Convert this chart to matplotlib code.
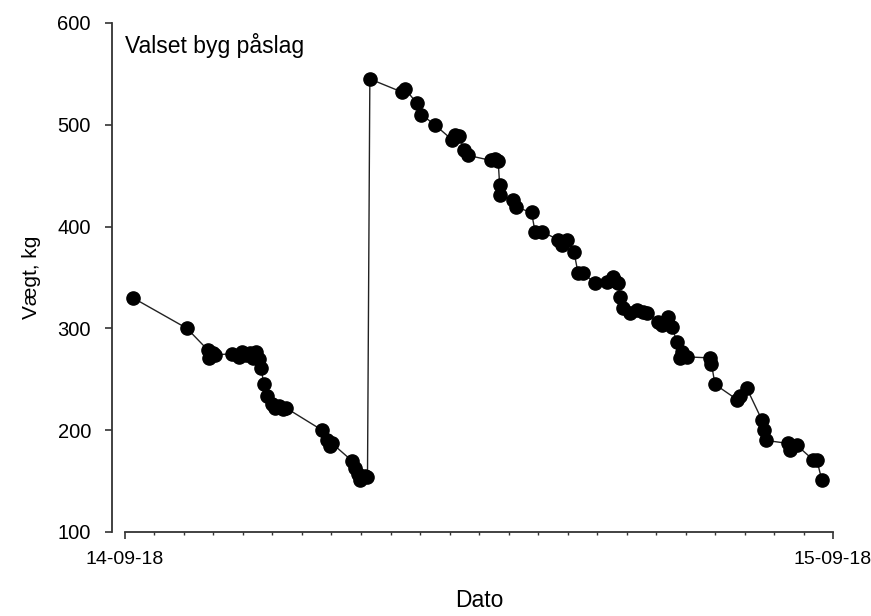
import numpy as np
import pandas as pd
import matplotlib
matplotlib.use('Agg')
import matplotlib.pyplot as plt
import matplotlib.dates as mdates

plt.rcParams['font.family'] = ['Liberation Sans', 'DejaVu Sans']

# hours after 14-09-18 00:00 and weight in kg
hours = [0.27, 2.10, 2.80, 2.86, 3.00, 3.05, 3.63, 3.85, 3.95, 4.10, 4.25,
         4.35, 4.45, 4.55, 4.62, 4.70, 4.82, 4.98, 5.10, 5.22, 5.35, 5.45,
         6.68, 6.85, 6.95, 7.02, 7.69, 7.80, 7.90, 7.97, 8.12, 8.22,
         8.30, 9.40, 9.50, 9.90, 10.05, 10.50, 11.10, 11.20, 11.33, 11.50,
         11.62, 12.40, 12.55, 12.65, 12.70, 12.72, 13.15, 13.25, 13.78,
         13.90, 14.15, 14.68, 14.80, 14.98, 15.22, 15.36, 15.52, 15.93,
         16.34, 16.54, 16.62, 16.71, 16.78, 16.88, 17.12, 17.36, 17.56,
         17.69, 18.07, 18.20, 18.41, 18.54, 18.71, 18.81, 18.88, 19.05,
         19.83, 19.88, 20.00, 20.75, 20.85, 21.08, 21.59, 21.66, 21.72,
         22.47, 22.54, 22.78, 23.32, 23.45, 23.62]
weight = [330, 300, 279, 271, 276, 274, 275, 272, 277, 274, 276,
          271, 277, 270, 261, 245, 234, 226, 222, 224, 221, 222,
          200, 190, 184, 187, 170, 163, 157, 151, 155, 154,
          545, 532, 535, 521, 510, 500, 485, 490, 489, 475,
          470, 465, 466, 464, 441, 431, 426, 419, 414,
          395, 395, 387, 382, 387, 375, 354, 354, 345,
          346, 350, 347, 345, 331, 320, 315, 318, 316,
          315, 306, 303, 311, 301, 287, 271, 277, 272,
          271, 265, 245, 230, 234, 241, 210, 200, 190,
          187, 181, 185, 171, 171, 151]

start = pd.Timestamp('2018-09-14')
end = pd.Timestamp('2018-09-15')
t = start + pd.to_timedelta(hours, unit='h')

fig = plt.figure(figsize=(8.71, 6.16), dpi=100)
ax = fig.add_axes([0.1435, 0.1364, 0.8129, 0.8263])

ax.plot(t, weight, color='#222222', linewidth=1.0, marker='o',
        markersize=9.5, markerfacecolor='black', markeredgecolor='black')

ax.set_xlim(start, end)
ax.set_ylim(100, 600)
ax.set_yticks(np.arange(100, 601, 100))
ax.set_xticks([start, end])
ax.xaxis.set_major_formatter(mdates.DateFormatter('%d-%m-%y'))
ax.xaxis.set_minor_locator(mdates.HourLocator())

ax.spines['top'].set_visible(False)
ax.spines['right'].set_visible(False)
ax.spines['left'].set_position(('outward', 9.5))
ax.spines['left'].set_linewidth(1.3)
ax.spines['bottom'].set_linewidth(1.3)
ax.spines['left'].set_color('#333333')
ax.spines['bottom'].set_color('#333333')

ax.tick_params(axis='y', direction='out', length=5, width=1.2, labelsize=14.5,
               pad=10, color='#333333')
ax.tick_params(axis='x', which='major', direction='out', length=5, width=1.2,
               labelsize=14, pad=9, color='#333333')
ax.tick_params(axis='x', which='minor', direction='out', length=2.5, width=1.0,
               color='#333333')

ax.set_ylabel('Vægt, kg', fontsize=15, labelpad=12)
ax.set_xlabel('Dato', fontsize=16.5, labelpad=15)

ax.text(0.0, 0.955, 'Valset byg påslag', transform=ax.transAxes,
        fontsize=16.5, ha='left', va='center')

fig.savefig('out.png', dpi=100)
